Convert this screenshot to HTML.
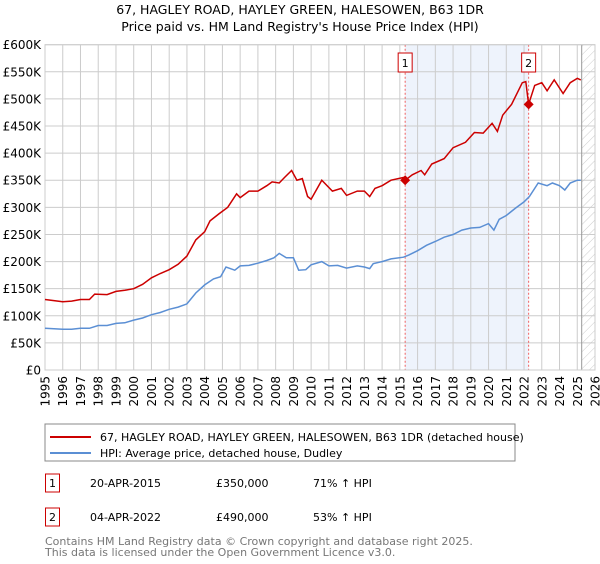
<!DOCTYPE html>
<html><head><meta charset="utf-8"><style>
body{margin:0;background:#fff;font-family:"DejaVu Sans","Liberation Sans",sans-serif;}
svg text{font-family:"DejaVu Sans","Liberation Sans",sans-serif;}
</style></head><body>
<svg id="chart" width="600" height="560" xmlns="http://www.w3.org/2000/svg">
<defs><pattern id="hatch" width="6" height="6" patternUnits="userSpaceOnUse" patternTransform="rotate(45)"><line x1="0" y1="0" x2="0" y2="6" stroke="#ccc" stroke-width="1"/></pattern></defs>
<text x="300" y="14" text-anchor="middle" font-size="12.5" fill="#000">67, HAGLEY ROAD, HAYLEY GREEN, HALESOWEN, B63 1DR</text>
<text x="300" y="31" text-anchor="middle" font-size="12.5" fill="#000">Price paid vs. HM Land Registry's House Price Index (HPI)</text>
<g id="grid"></g>
<g id="marks"></g>
<g id="axes"></g>
<rect x="45" y="424" width="470" height="37" fill="#fff" stroke="#888"/>
<line x1="50" y1="437" x2="91" y2="437" stroke="#cc0000" stroke-width="2"/>
<text x="100" y="441" font-size="11">67, HAGLEY ROAD, HAYLEY GREEN, HALESOWEN, B63 1DR (detached house)</text>
<line x1="50" y1="453" x2="91" y2="453" stroke="#5b8fd4" stroke-width="2"/>
<text x="100" y="457" font-size="11">HPI: Average price, detached house, Dudley</text>
<g>
<rect x="45.5" y="474" width="14" height="18" fill="#fff" stroke="#cc0000"/>
<text x="52.5" y="487" font-size="11" text-anchor="middle">1</text>
<text x="90" y="487" font-size="11">20-APR-2015</text>
<text x="216" y="487" font-size="11">£350,000</text>
<text x="313" y="487" font-size="11">71% ↑ HPI</text></g>
<g>
<rect x="45.5" y="508" width="14" height="18" fill="#fff" stroke="#cc0000"/>
<text x="52.5" y="521" font-size="11" text-anchor="middle">2</text>
<text x="90" y="521" font-size="11">04-APR-2022</text>
<text x="216" y="521" font-size="11">£490,000</text>
<text x="313" y="521" font-size="11">53% ↑ HPI</text></g>
<text x="45" y="545" font-size="11" fill="#777">Contains HM Land Registry data © Crown copyright and database right 2025.</text>
<text x="45" y="556" font-size="11" fill="#777">This data is licensed under the Open Government Licence v3.0.</text>
</svg>
<script>
const yTicks=[0,50,100,150,200,250,300,350,400,450,500,550,600];
const yTickLabels=["£0","£50K","£100K","£150K","£200K","£250K","£300K","£350K","£400K","£450K","£500K","£550K","£600K"];
const xYears=[1995,1996,1997,1998,1999,2000,2001,2002,2003,2004,2005,2006,2007,2008,2009,2010,2011,2012,2013,2014,2015,2016,2017,2018,2019,2020,2021,2022,2023,2024,2025,2026];
const hpiDates=[1995,1995.5,1996,1996.5,1997,1997.5,1998,1998.5,1999,1999.5,2000,2000.5,2001,2001.5,2002,2002.5,2003,2003.5,2004,2004.5,2004.9,2005.2,2005.7,2006,2006.5,2007,2007.5,2007.9,2008.2,2008.6,2009,2009.3,2009.7,2010,2010.6,2011,2011.5,2012,2012.6,2013,2013.3,2013.5,2014,2014.5,2015.2,2015.5,2016,2016.5,2017,2017.5,2018,2018.5,2019,2019.5,2020,2020.3,2020.6,2021,2021.5,2022,2022.3,2022.8,2023.3,2023.6,2024,2024.3,2024.6,2025,2025.2];
const hpiValues=[77,76,75,75,77,77,82,82,86,87,92,96,102,106,112,116,122,142,157,168,172,190,184,192,193,197,202,207,215,207,207,184,185,194,200,192,193,188,192,190,187,196,200,205,208,212,220,230,237,245,250,258,262,263,270,258,278,285,298,310,320,345,340,345,340,332,345,350,350];
const priceDates=[1995,1995.5,1996,1996.5,1997,1997.5,1997.8,1998.5,1999,1999.5,2000,2000.5,2001,2001.5,2002,2002.5,2003,2003.5,2004,2004.3,2004.8,2005.3,2005.8,2006,2006.5,2007,2007.5,2007.8,2008.2,2008.5,2008.9,2009.2,2009.5,2009.8,2010,2010.6,2011.2,2011.7,2012,2012.6,2013,2013.3,2013.6,2014,2014.5,2015.2,2015.3,2015.7,2016.2,2016.4,2016.8,2017.5,2018,2018.7,2019.2,2019.7,2020.2,2020.5,2020.8,2021.3,2021.9,2022.1,2022.26,2022.6,2023,2023.3,2023.7,2024.2,2024.6,2025,2025.2];
const priceValues=[130,128,126,127,130,130,140,139,145,147,150,158,170,178,185,195,210,240,255,275,288,300,325,318,330,330,340,347,345,355,368,350,353,320,315,350,330,335,322,330,330,320,335,340,350,355,350,360,368,360,380,390,410,420,438,437,455,440,470,490,530,532,490,525,530,515,535,510,530,538,535];
const saleDates=[2015.3,2022.26];
const saleValues=[350,490];
const saleLabels=["1","2"];
const L=45,R=595,T=44.7,B=370;
const x=d=>L+(d-1995)/(2026-1995)*(R-L);
const y=v=>B-v/600*(B-T);
const NS="http://www.w3.org/2000/svg";
function mk(tag,attrs,parent){const e=document.createElementNS(NS,tag);for(const k in attrs)e.setAttribute(k,attrs[k]);parent.appendChild(e);return e;}
const grid=document.getElementById('grid'),marks=document.getElementById('marks'),axes=document.getElementById('axes');
const bg=mk('rect',{x:L,y:T,width:R-L,height:B-T,fill:'#fff'},grid);


const band=mk('rect',{x:x(saleDates[0]),y:T,width:x(saleDates[1])-x(saleDates[0]),height:B-T,fill:'#eef3fc'},grid);


const hatch=mk('rect',{x:x(2025.25),y:T,width:R-x(2025.25),height:B-T,fill:'url(#hatch)'},grid);


yTicks.forEach((t,i)=>{
 const l=mk('line',{x1:L,x2:R,y1:y(t),y2:y(t),stroke:'#ccc','stroke-width':1},grid);
 
 
 const tx=mk('text',{x:L-4,y:y(t)+4.5,'text-anchor':'end','font-size':12},axes);
 tx.textContent=yTickLabels[i];
 
 
});
xYears.forEach(yr=>{
 const l=mk('line',{x1:x(yr),x2:x(yr),y1:T,y2:B,stroke:'#ccc','stroke-width':1},grid);
 
 
 const tx=mk('text',{x:0,y:0,'text-anchor':'end','font-size':12,transform:`translate(${x(yr)+4.5},${B+6}) rotate(-90)`},axes);
 tx.textContent=yr;
 
 
});
const cut=mk('line',{x1:x(2025.25),x2:x(2025.25),y1:T,y2:B,stroke:'#999','stroke-width':1},grid);


saleDates.forEach((d,i)=>{
 const l=mk('line',{x1:x(d),x2:x(d),y1:T,y2:B,stroke:'#f06060','stroke-width':1,'stroke-dasharray':'2,2'},grid);
 
 
});
const pts=(ds,vs)=>ds.map((d,i)=>x(d).toFixed(1)+','+y(vs[i]).toFixed(1)).join(' ');
const hpi=mk('polyline',{points:pts(hpiDates,hpiValues),fill:'none',stroke:'#5b8fd4','stroke-width':1.5},marks);


const pr=mk('polyline',{points:pts(priceDates,priceValues),fill:'none',stroke:'#cc0000','stroke-width':1.5},marks);


saleDates.forEach((d,i)=>{
 const cx=x(d),cy=y(saleValues[i]);
 const p=mk('polygon',{points:`${cx},${cy-5} ${cx+5},${cy} ${cx},${cy+5} ${cx-5},${cy}`,fill:'#cc0000'},marks);
 
 
 const b=mk('rect',{x:cx-7,y:53,width:14,height:19,fill:'#fff',stroke:'#cc0000'},marks);
 
 
 const t=mk('text',{x:cx,y:67,'text-anchor':'middle','font-size':11},marks);
 t.textContent=saleLabels[i];
 
 
});
const frame=mk('rect',{x:L,y:T,width:R-L,height:B-T,fill:'none',stroke:'#ccc'},grid);


</script>
</body></html>
